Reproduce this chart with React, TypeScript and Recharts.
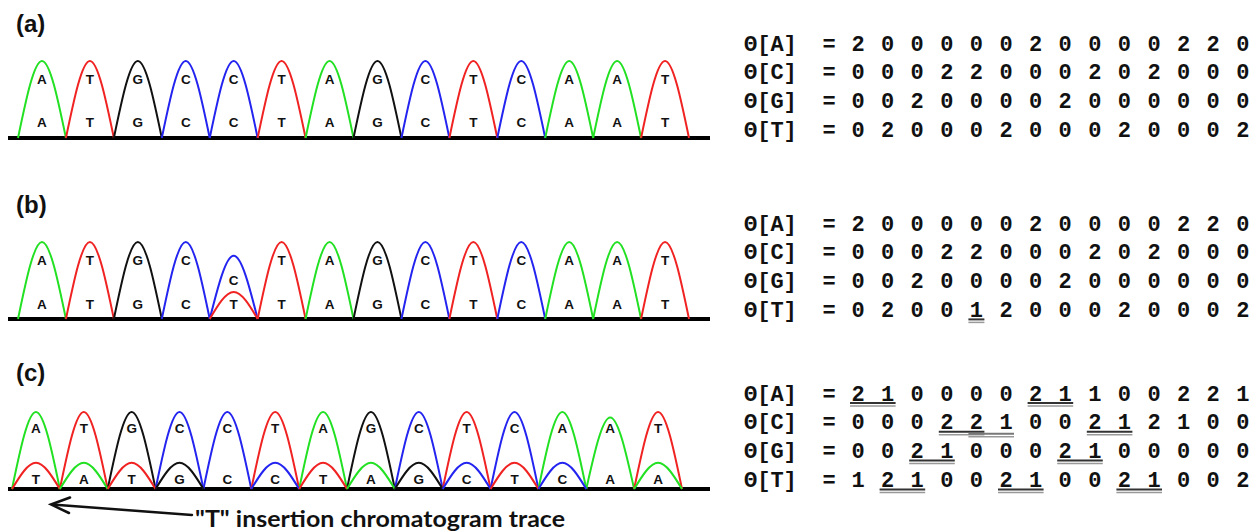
import { ComposedChart, Line, ReferenceLine, Scatter, XAxis, YAxis } from "recharts";

const bases = ["A", "T", "G", "C", "C", "T", "A", "G", "C", "T", "C", "A", "A", "T"];

// (a) clean trace
const majorHeightsA = [100, 100, 100, 100, 100, 100, 100, 100, 100, 100, 100, 100, 100, 100];
const upperLabelsA = bases;
const lowerLabelsA = bases;

// (b) mixed C/T peak at position 5
const majorHeightsB = [100, 100, 100, 100, 82, 100, 100, 100, 100, 100, 100, 100, 100, 100];
const minorBasesB = [null, null, null, null, "T", null, null, null, null, null, null, null, null, null];
const minorHeightsB = [0, 0, 0, 0, 35, 0, 0, 0, 0, 0, 0, 0, 0, 0];
const upperLabelsB = ["A", "T", "G", "C", "", "T", "A", "G", "C", "T", "C", "A", "A", "T"];
const midLabelsB = ["", "", "", "", "C", "", "", "", "", "", "", "", "", ""];
const lowerLabelsB = ["A", "T", "G", "C", "T", "T", "A", "G", "C", "T", "C", "A", "A", "T"];

// (c) "T" insertion, shifted secondary trace
const majorHeightsC = [100, 100, 100, 100, 100, 100, 100, 100, 100, 100, 100, 100, 93, 100];
const minorBasesC = ["T", "A", "T", "G", null, "C", "T", "A", "G", "C", "T", "C", null, "A"];
const minorHeightsC = [34, 34, 34, 34, 0, 34, 34, 34, 34, 34, 34, 34, 0, 34];
const upperLabelsC = bases;
const lowerLabelsC = ["T", "A", "T", "G", "C", "C", "T", "A", "G", "C", "T", "C", "A", "A"];

// theta matrices (rows A, C, G, T)
const rowNames = ["A", "C", "G", "T"];
const thetaA = [
  [2, 0, 0, 0, 0, 0, 2, 0, 0, 0, 0, 2, 2, 0],
  [0, 0, 0, 2, 2, 0, 0, 0, 2, 0, 2, 0, 0, 0],
  [0, 0, 2, 0, 0, 0, 0, 2, 0, 0, 0, 0, 0, 0],
  [0, 2, 0, 0, 0, 2, 0, 0, 0, 2, 0, 0, 0, 2],
];
const thetaB = [
  [2, 0, 0, 0, 0, 0, 2, 0, 0, 0, 0, 2, 2, 0],
  [0, 0, 0, 2, 2, 0, 0, 0, 2, 0, 2, 0, 0, 0],
  [0, 0, 2, 0, 0, 0, 0, 2, 0, 0, 0, 0, 0, 0],
  [0, 2, 0, 0, 1, 2, 0, 0, 0, 2, 0, 0, 0, 2],
];
const thetaC = [
  [2, 1, 0, 0, 0, 0, 2, 1, 1, 0, 0, 2, 2, 1],
  [0, 0, 0, 2, 2, 1, 0, 0, 2, 1, 2, 1, 0, 0],
  [0, 0, 2, 1, 0, 0, 0, 2, 1, 0, 0, 0, 0, 0],
  [1, 2, 1, 0, 0, 2, 1, 0, 0, 2, 1, 0, 0, 2],
];
// [row, from, to, faint]
const underlinesB = [[3, 4, 4, 0]];
const underlinesC = [
  [0, 0, 1, 0], [0, 6, 7, 0],
  [1, 3, 4, 0], [1, 4, 5, 1], [1, 8, 9, 0],
  [2, 2, 3, 0], [2, 7, 8, 0],
  [3, 1, 2, 0], [3, 5, 6, 0], [3, 9, 10, 0],
];

const colors: Record<string, string> = {
  A: "#22e022",
  C: "#2424f0",
  G: "#111111",
  T: "#f02222",
};

const sans = "'Liberation Sans', Arial, sans-serif";
const mono = "'Liberation Mono', 'Courier New', monospace";

const Letter = (p: any) => (
  <text
    x={p.cx}
    y={p.cy}
    textAnchor="middle"
    dominantBaseline="central"
    fontFamily={sans}
    fontWeight="bold"
    fontSize={13.5}
    fill="#111"
  >
    {p.payload.t}
  </text>
);

const peakLines = (baseArr: (string | null)[], heights: number[], prefix: string) =>
  baseArr.map((b, i) =>
    b && heights[i] > 0 ? (
      <Line
        key={prefix + i}
        data={[
          { x: i, y: 0 },
          { x: i + 0.5, y: heights[i] },
          { x: i + 1, y: 0 },
        ]}
        dataKey="y"
        type="monotone"
        stroke={colors[b]}
        strokeWidth={2}
        dot={false}
        activeDot={false}
        isAnimationActive={false}
      />
    ) : null
  );

const labelPoints = (labels: string[], level: number) =>
  labels.map((t, i) => ({ x: i + 0.5, y: level, t })).filter((d) => d.t);

const Chromatogram = ({ top, domain, majorH, minorB, minorH, labelSets }: any) => (
  <div style={{ position: "absolute", left: 8, top, width: 702, height: 97 }}>
    <ComposedChart width={702} height={97} margin={{ top: 10, right: 0, bottom: 10, left: 0 }}>
      <XAxis type="number" dataKey="x" domain={domain} hide />
      <YAxis type="number" domain={[0, 100]} hide />
      <ReferenceLine y={0} stroke="#000" strokeWidth={4} />
      {peakLines(bases, majorH, "maj")}
      {minorB ? peakLines(minorB, minorH, "min") : null}
      {labelSets.map((s: any, k: number) => (
        <Scatter
          key={"lab" + k}
          data={labelPoints(s[0], s[1])}
          dataKey="y"
          shape={Letter}
          isAnimationActive={false}
        />
      ))}
    </ComposedChart>
  </div>
);

const digitX = (i: number) => 858 + i * 29.6;

const Matrix = ({ values, y0, underlines }: any) => {
  const gap = 28.8;
  return (
    <g>
      {values.map((row: number[], r: number) => {
        const yc = y0 + r * gap;
        return (
          <g key={r} fontFamily={mono} fontWeight="bold" fontSize={22} fill="#111">
            <text x={744} y={yc + 7}>{"Θ[" + rowNames[r] + "]"}</text>
            <text x={829} y={yc + 7} textAnchor="middle">=</text>
            {row.map((v, i) => (
              <text key={i} x={digitX(i)} y={yc + 7} textAnchor="middle">
                {v}
              </text>
            ))}
          </g>
        );
      })}
      {(underlines || []).map((u: number[], k: number) => {
        const yc = y0 + u[0] * gap;
        const x1 = digitX(u[1]) - 8;
        const x2 = digitX(u[2]) + 8;
        const off = u[3] ? 2 : 0;
        return (
          <g key={"u" + k}>
            <line x1={x1} x2={x2} y1={yc + 9.5 + off} y2={yc + 9.5 + off} stroke={u[3] ? "#777" : "#333"} strokeWidth={2} />
            <line x1={x1} x2={x2} y1={yc + 12.5 + off} y2={yc + 12.5 + off} stroke="#999" strokeWidth={1.5} />
          </g>
        );
      })}
    </g>
  );
};

export default function App() {
  return (
    <div
      style={{
        position: "absolute",
        left: 0,
        top: 0,
        width: 1258,
        height: 531,
        background: "#fff",
        overflow: "hidden",
      }}
    >
      <svg width={1258} height={531} style={{ position: "absolute", left: 0, top: 0 }}>
        <g fontFamily={sans} fontWeight="bold" fontSize={24} fill="#111">
          <text x={16} y={32}>(a)</text>
          <text x={16} y={213}>(b)</text>
          <text x={16} y={381}>(c)</text>
        </g>
        <Matrix values={thetaA} y0={43.5} />
        <Matrix values={thetaB} y0={223.5} underlines={underlinesB} />
        <Matrix values={thetaC} y0={393.5} underlines={underlinesC} />
        <g stroke="#111" strokeWidth={2.5} fill="none" strokeLinecap="round">
          <line x1={192} y1={515} x2={52} y2={504.5} />
          <polyline points="70,497.5 51,504.5 69,513" />
        </g>
        <text
          x={195}
          y={527}
          fontFamily="Lato, 'DejaVu Sans', sans-serif"
          fontWeight="bold"
          fontSize={22}
          fill="#111"
          textLength={370}
          lengthAdjust="spacingAndGlyphs"
        >
          "T" insertion chromatogram trace
        </text>
      </svg>
      <Chromatogram
        top={51}
        domain={[-0.209, 14.438]}
        majorH={majorHeightsA}
        labelSets={[
          [upperLabelsA, 75.6],
          [lowerLabelsA, 20.5],
        ]}
      />
      <Chromatogram
        top={232}
        domain={[-0.209, 14.438]}
        majorH={majorHeightsB}
        minorB={minorBasesB}
        minorH={minorHeightsB}
        labelSets={[
          [upperLabelsB, 76.6],
          [midLabelsB, 50.6],
          [lowerLabelsB, 18.2],
        ]}
      />
      <Chromatogram
        top={402}
        domain={[-0.0836, 14.585]}
        majorH={majorHeightsC}
        minorB={minorBasesC}
        minorH={minorHeightsC}
        labelSets={[
          [upperLabelsC, 79],
          [lowerLabelsC, 11.7],
        ]}
      />
    </div>
  );
}
